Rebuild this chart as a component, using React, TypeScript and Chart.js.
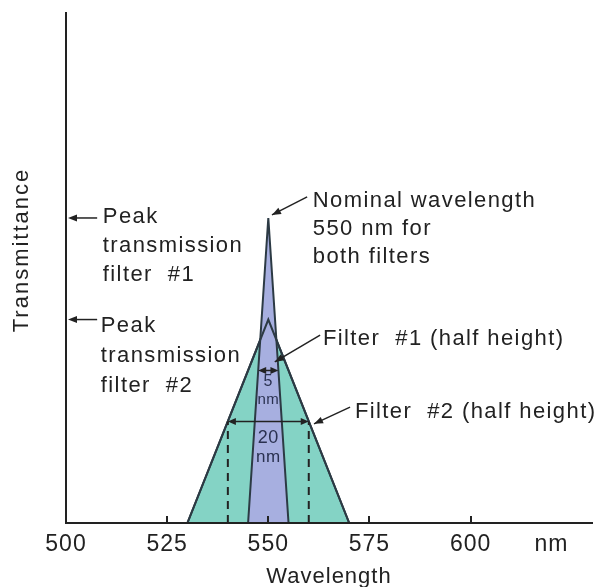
import React, { useEffect, useRef } from 'react';
import { Chart, registerables } from 'chart.js';

Chart.register(...registerables);

// ---- data ----
const xTickValues = [500, 525, 550, 575, 600, 620];
const xTickLabels = ['500', '525', '550', '575', '600', 'nm'];
const tickMarkValues = [525, 550, 575, 600];

const filter1Wavelengths = [545, 550, 555];
const filter1Transmittance = [0, 1, 0];
const filter2Wavelengths = [530, 550, 570];
const filter2Transmittance = [0, 0.667, 0];

const filter1HalfWidth = [547.5, 552.5];
const filter1HalfHeight = 0.5;
const filter2HalfWidth = [540, 560];
const filter2HalfHeight = 0.333;

const peakLevels = [1, 0.667];

// ---- annotations (data coordinates) ----
const textNotes = [
  { x: 509.1, y: 0.984, lines: ['Peak', 'transmission', 'filter  #1'], lh: 29 },
  { x: 508.6, y: 0.626, lines: ['Peak', 'transmission', 'filter  #2'], lh: 30 },
  { x: 561.0, y: 1.036, lines: ['Nominal wavelength', '550 nm for', 'both filters'], lh: 28 },
  { x: 563.5, y: 0.584, lines: ['Filter  #1 (half height)'], lh: 28 },
  { x: 571.4, y: 0.344, lines: ['Filter  #2 (half height)'], lh: 28 },
];

const pointerArrows = [
  { from: [559.6, 1.069], to: [550.9, 1.01] },
  { from: [562.8, 0.616], to: [551.6, 0.528] },
  { from: [570.2, 0.38], to: [561.3, 0.325] },
];

const widthLabels = [
  { x: 550, y: 0.462, text: '5', size: 16 },
  { x: 550, y: 0.405, text: 'nm', size: 15 },
  { x: 550, y: 0.279, text: '20', size: 18 },
  { x: 550, y: 0.216, text: 'nm', size: 17 },
];

const FONT = '"Liberation Sans", Arial, Helvetica, sans-serif';
const INK = '#222222';
const OUTLINE = '#2c3a44';
const TEAL = '#84d3c5';
const LAVENDER = '#a7afe0';

function toPts(xs: number[], ys: number[]) {
  return xs.map((x, i) => ({ x, y: ys[i] }));
}

function arrowHead(ctx: CanvasRenderingContext2D, fx: number, fy: number, tx: number, ty: number, len = 9, half = 3.5) {
  const a = Math.atan2(ty - fy, tx - fx);
  ctx.beginPath();
  ctx.moveTo(tx, ty);
  ctx.lineTo(tx - len * Math.cos(a) + half * Math.sin(a), ty - len * Math.sin(a) - half * Math.cos(a));
  ctx.lineTo(tx - len * Math.cos(a) - half * Math.sin(a), ty - len * Math.sin(a) + half * Math.cos(a));
  ctx.closePath();
  ctx.fill();
}

const annotPlugin = {
  id: 'annot',
  beforeDraw(chart: any) {
    (chart.ctx as any).letterSpacing = '1px';
  },
  afterDraw(chart: any) {
    const ctx: CanvasRenderingContext2D = chart.ctx;
    const xs = chart.scales.x;
    const ys = chart.scales.y;
    const px = (v: number) => xs.getPixelForValue(v);
    const py = (v: number) => ys.getPixelForValue(v);
    ctx.save();
    ctx.strokeStyle = INK;
    ctx.fillStyle = INK;

    // inward tick marks on x axis
    ctx.lineWidth = 2;
    tickMarkValues.forEach((v) => {
      const x = Math.round(px(v));
      ctx.beginPath();
      ctx.moveTo(x, py(0));
      ctx.lineTo(x, py(0) - 7);
      ctx.stroke();
    });

    // peak arrows on y axis
    ctx.lineWidth = 1.5;
    peakLevels.forEach((lv) => {
      const y = py(lv);
      const x0 = px(507.7);
      const x1 = px(500) + 2;
      ctx.beginPath();
      ctx.moveTo(x0, y);
      ctx.lineTo(x1 + 6, y);
      ctx.stroke();
      arrowHead(ctx, x0, y, x1, y, 9, 3.5);
    });

    // pointer arrows
    pointerArrows.forEach((a) => {
      const fx = px(a.from[0]), fy = py(a.from[1]);
      const tx = px(a.to[0]), ty = py(a.to[1]);
      ctx.beginPath();
      ctx.moveTo(fx, fy);
      ctx.lineTo(tx, ty);
      ctx.stroke();
      arrowHead(ctx, fx, fy, tx, ty, 9, 3.5);
    });

    // double arrows for half widths
    const dbl = (xa: number, xb: number, yv: number) => {
      const y = py(yv);
      const a = px(xa), b = px(xb);
      ctx.beginPath();
      ctx.moveTo(a + 4, y);
      ctx.lineTo(b - 4, y);
      ctx.stroke();
      arrowHead(ctx, (a + b) / 2, y, a, y, 8, 3.5);
      arrowHead(ctx, (a + b) / 2, y, b, y, 8, 3.5);
    };
    dbl(filter1HalfWidth[0], filter1HalfWidth[1], filter1HalfHeight);
    dbl(filter2HalfWidth[0], filter2HalfWidth[1], filter2HalfHeight);

    // texts
    (ctx as any).letterSpacing = '1.4px';
    ctx.textAlign = 'left';
    ctx.textBaseline = 'alphabetic';
    ctx.font = `22px ${FONT}`;
    textNotes.forEach((n) => {
      const x = px(n.x);
      const y = py(n.y);
      n.lines.forEach((ln, i) => ctx.fillText(ln, x, y + i * n.lh));
    });

    (ctx as any).letterSpacing = '0.5px';
    ctx.textAlign = 'center';
    ctx.textBaseline = 'middle';
    ctx.fillStyle = '#2a3150';
    widthLabels.forEach((w) => {
      ctx.font = `${w.size}px ${FONT}`;
      ctx.fillText(w.text, px(w.x), py(w.y));
    });

    // y axis title
    ctx.fillStyle = INK;
    (ctx as any).letterSpacing = '2px';
    ctx.font = `22px ${FONT}`;
    ctx.translate(22, 250);
    ctx.rotate(-Math.PI / 2);
    ctx.textAlign = 'center';
    ctx.textBaseline = 'middle';
    ctx.fillText('Transmittance', 0, 0);

    ctx.restore();
  },
};

export default function App() {
  const ref = useRef<HTMLCanvasElement | null>(null);
  useEffect(() => {
    if (!ref.current) return;
    const chart = new Chart(ref.current, {
      type: 'line',
      data: {
        datasets: [
          {
            label: 'dash540',
            data: [
              { x: filter2HalfWidth[0], y: 0 },
              { x: filter2HalfWidth[0], y: filter2HalfHeight },
            ],
            borderColor: INK,
            borderWidth: 2,
            borderDash: [8, 6],
            pointRadius: 0,
            fill: false,
            order: 0,
          },
          {
            label: 'dash560',
            data: [
              { x: filter2HalfWidth[1], y: 0 },
              { x: filter2HalfWidth[1], y: filter2HalfHeight },
            ],
            borderColor: INK,
            borderWidth: 2,
            borderDash: [8, 6],
            pointRadius: 0,
            fill: false,
            order: 0,
          },
          {
            label: 'Filter #2 outline',
            data: toPts(filter2Wavelengths, filter2Transmittance),
            borderColor: OUTLINE,
            borderWidth: 2,
            pointRadius: 0,
            fill: false,
            tension: 0,
            order: 1,
          },
          {
            label: 'Filter #1',
            data: toPts(filter1Wavelengths, filter1Transmittance),
            borderColor: OUTLINE,
            backgroundColor: LAVENDER,
            borderWidth: 2,
            pointRadius: 0,
            fill: 'origin',
            tension: 0,
            order: 2,
          },
          {
            label: 'Filter #2',
            data: toPts(filter2Wavelengths, filter2Transmittance),
            borderColor: OUTLINE,
            backgroundColor: TEAL,
            borderWidth: 2,
            pointRadius: 0,
            fill: 'origin',
            tension: 0,
            order: 3,
          },
        ],
      },
      options: {
        responsive: false,
        animation: false,
        layout: { padding: { left: 66, right: 9, top: 13, bottom: 0 } },
        plugins: {
          legend: { display: false },
          tooltip: { enabled: false },
        },
        scales: {
          x: {
            type: 'linear',
            min: 500,
            max: 630,
            grid: { display: false, drawTicks: false },
            border: { display: true, color: INK, width: 2, z: 1 },
            afterBuildTicks: (s: any) => {
              s.ticks = xTickValues.map((v) => ({ value: v }));
            },
            afterFit: (s: any) => {
              s.height = 64;
            },
            ticks: {
              autoSkip: false,
              maxRotation: 0,
              padding: 8,
              color: INK,
              font: { family: FONT, size: 23 },
              callback: (v: any) => {
                const i = xTickValues.indexOf(Number(v));
                return i >= 0 ? xTickLabels[i] : '';
              },
            },
            title: {
              display: true,
              text: 'Wavelength',
              color: INK,
              font: { family: FONT, size: 22, lineHeight: 1 },
              padding: { top: 0, bottom: -1 },
            },
          },
          y: {
            type: 'linear',
            min: 0,
            max: 1.672,
            grid: { display: false, drawTicks: false },
            ticks: { display: false },
            border: { display: true, color: INK, width: 2, z: 1 },
            afterFit: (s: any) => {
              s.width = 0;
            },
          },
        },
      } as any,
      plugins: [annotPlugin],
    });
    return () => chart.destroy();
  }, []);
  return (
    <div style={{ position: 'absolute', left: 0, top: 0, width: 601, height: 587, background: '#fff' }}>
      <canvas ref={ref} width={601} height={587} style={{ display: 'block' }} />
    </div>
  );
}
